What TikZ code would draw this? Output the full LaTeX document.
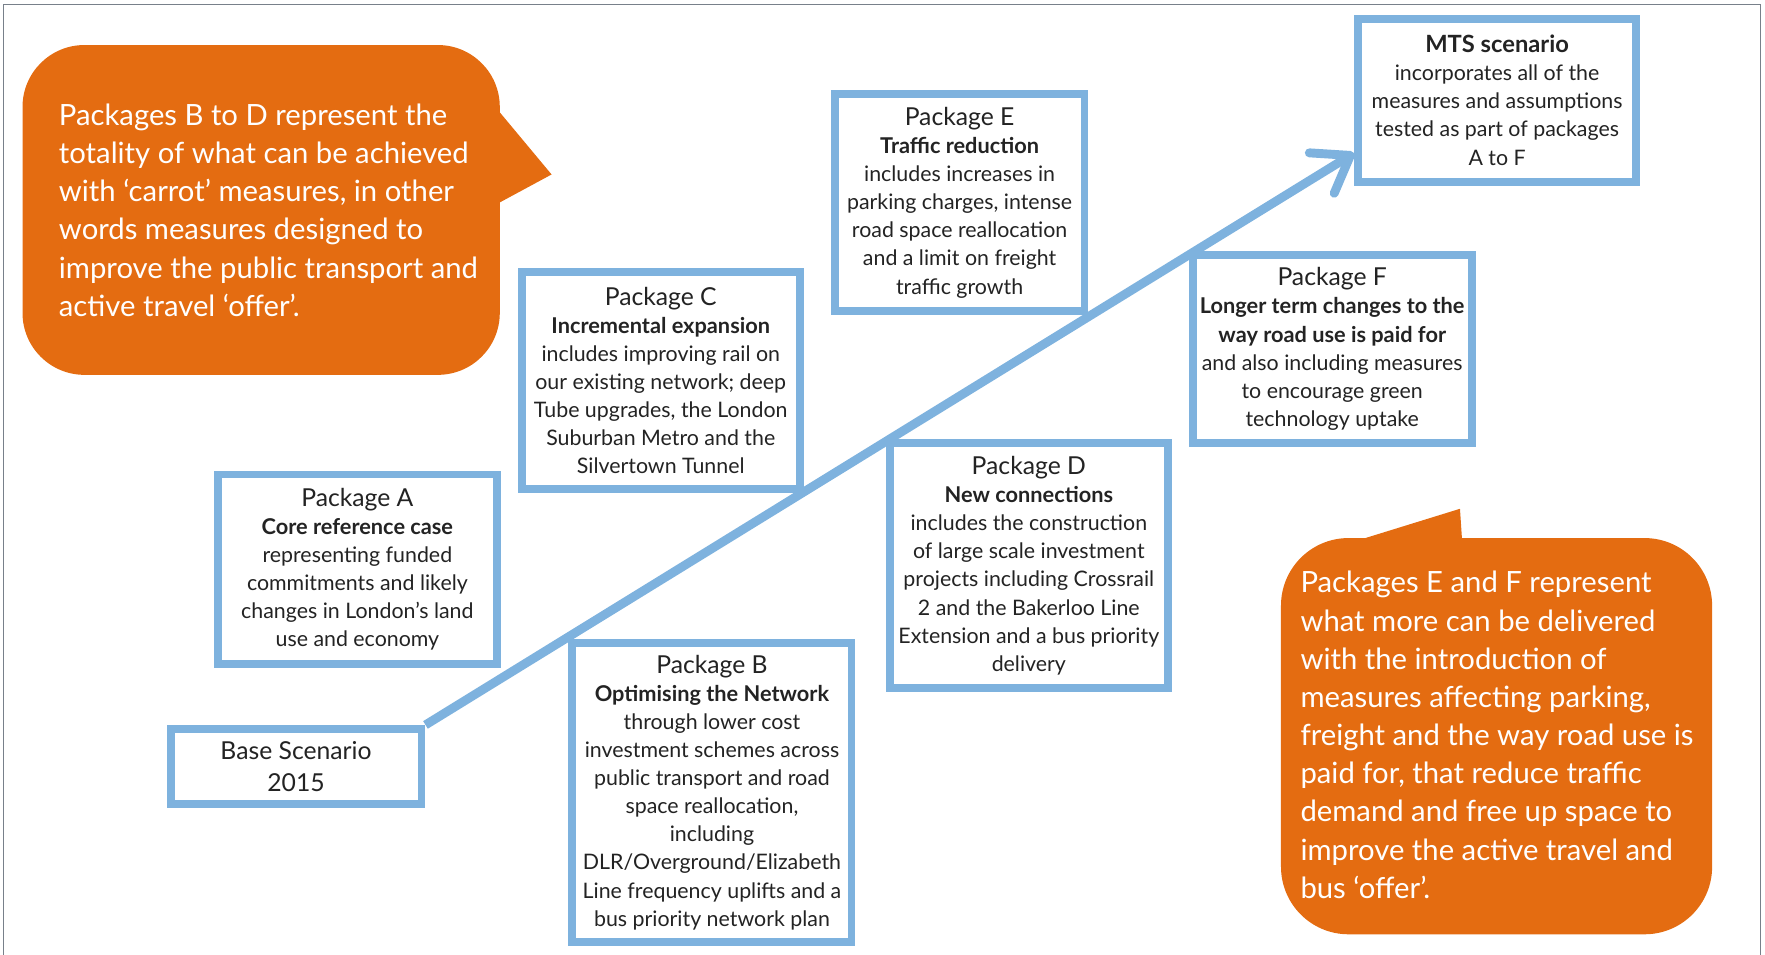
\documentclass[tikz,border=0pt]{standalone}
\usepackage[table, dvipsnames]{xcolor}
\usepackage{fontspec}
\setmainfont{Lato}
\usetikzlibrary{arrows.meta}
\definecolor{tflorange}{RGB}{228,108,17}
\definecolor{tflblue}{RGB}{126,178,222}
\definecolor{framegray}{RGB}{120,128,138}
\definecolor{bodygray}{RGB}{35,35,35}
\newcommand{\pkgtitle}[1]{{\fontsize{12.5}{14.2}\selectfont #1}}
\newcommand{\pkgsub}[1]{{\fontsize{11}{14.2}\selectfont\bfseries #1}}

\begin{document}
\begin{tikzpicture}[x=0.02cm, y=-0.02cm]
\tikzstyle{every node}+=[inner sep=0pt]
\tikzstyle{pkg}=[draw=tflblue, line width=4pt, fill=white, align=center, text=bodygray, font=\fontsize{10.8}{14.2}\selectfont]
\tikzstyle{note}=[fill=tflorange, rounded corners=1.1cm]
\tikzstyle{notetext}=[text=white, align=left, font=\fontsize{14.8}{19.3}\selectfont]
\tikzstyle{flow}=[draw=tflblue, line width=4.5pt, -{Straight Barb[length=17pt, width=24pt, line width=4.5pt, round]}]
\useasboundingbox (0,0) rectangle (1568,848);
\draw [framegray, line width=0.8pt] (3,860) -- (3,4) -- (1564,4) -- (1564,860);
% speech bubbles
\fill [note] (20,40) rectangle (444,333);
\fill [tflorange] (440,95) -- (490,155) -- (440,182) -- cycle;
\node [notetext, anchor=base west] (noteBD) at (52,281) {Packages B to D represent the\\totality of what can be achieved\\with ‘carrot’ measures, in other\\words measures designed to\\improve the public transport and\\active travel ‘offer’.};
\fill [note, rounded corners=1.2cm] (1138,478) rectangle (1521,830);
\fill [tflorange] (1200,482) -- (1297,452) -- (1299,482) -- cycle;
\node [notetext, anchor=base west] (noteEF) at (1155,798) {Packages E and F represent\\what more can be delivered\\with the introduction of\\measures affecting parking,\\freight and the way road use is\\paid for, that reduce traffic\\demand and free up space to\\improve the active travel and\\bus ‘offer’.};
% packages
\node [pkg, minimum width=4.46cm, minimum height=1.34cm, font=\fontsize{10.8}{16}\selectfont] (base) at (263,681) {\pkgtitle{Base Scenario}\\\pkgtitle{2015}};
\node [pkg, minimum width=4.96cm, minimum height=3.36cm] (pkgA) at (317.5,505.5) {\pkgtitle{Package A}\\\pkgsub{Core reference case}\\representing funded\\commitments and likely\\changes in London’s land\\use and economy};
\node [pkg, minimum width=4.96cm, minimum height=5.30cm] (pkgB) at (632.5,704) {\pkgtitle{Package B}\\\pkgsub{Optimising the Network}\\through lower cost\\investment schemes across\\public transport and road\\space reallocation,\\including\\DLR/Overground/Elizabeth\\Line frequency uplifts and a\\bus priority network plan};
\node [pkg, minimum width=4.94cm, minimum height=3.86cm] (pkgC) at (587,338) {\pkgtitle{Package C}\\\pkgsub{Incremental expansion}\\includes improving rail on\\our existing network; deep\\Tube upgrades, the London\\Suburban Metro and the\\Silvertown Tunnel};
\node [pkg, minimum width=4.94cm, minimum height=4.36cm] (pkgD) at (914,502.5) {\pkgtitle{Package D}\\\pkgsub{New connections}\\includes the construction\\of large scale investment\\projects including Crossrail\\2 and the Bakerloo Line\\Extension and a bus priority\\delivery};
\node [pkg, minimum width=4.44cm, minimum height=3.86cm] (pkgE) at (852.5,180) {\pkgtitle{Package E}\\\pkgsub{Traffic reduction}\\includes increases in\\parking charges, intense\\road space reallocation\\and a limit on freight\\traffic growth};
\node [pkg, minimum width=4.96cm, minimum height=3.34cm] (pkgF) at (1183.5,310) {\pkgtitle{Package F}\\\pkgsub{Longer term changes to the}\\\pkgsub{way road use is paid for}\\and also including measures\\to encourage green\\technology uptake};
\node [pkg, minimum width=4.94cm, minimum height=2.90cm] (mts) at (1330,89) {{\fontsize{12}{14.2}\selectfont\bfseries MTS scenario}\\incorporates all of the\\measures and assumptions\\tested as part of packages\\A to F};
% progression arrow
\draw [flow] (base.north east) -- ([yshift=0.58cm]mts.south west);
\end{tikzpicture}
\end{document}
